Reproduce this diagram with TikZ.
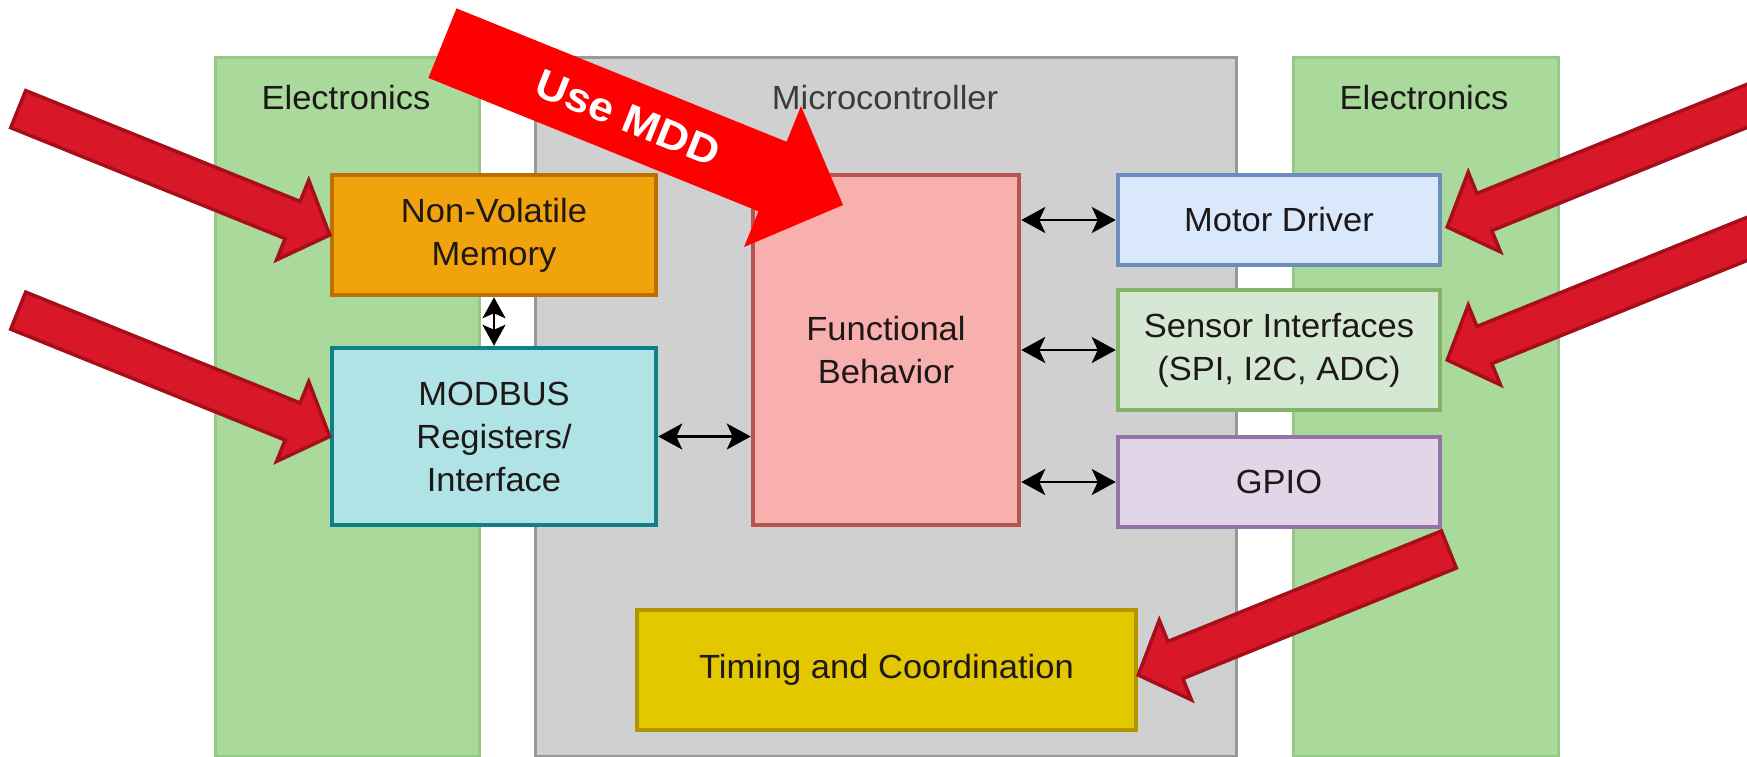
\documentclass[tikz,border=0pt]{standalone}
\usepackage{fontspec}
\setmainfont{Liberation Sans}[FakeStretch=1.03]
\newfontfamily\mddfont{Liberation Sans}[FakeStretch=1.08]
\usetikzlibrary{arrows.meta}

\definecolor{elecfill}{RGB}{169,218,156}
\definecolor{elecline}{RGB}{150,200,135}
\definecolor{mcufill}{RGB}{208,208,208}
\definecolor{mculine}{RGB}{153,153,153}
\definecolor{nvmfill}{HTML}{F0A30A}
\definecolor{nvmline}{HTML}{BD7000}
\definecolor{modfill}{HTML}{B0E3E6}
\definecolor{modline}{HTML}{0E8088}
\definecolor{fbfill}{RGB}{247,176,174}
\definecolor{fbline}{HTML}{B85450}
\definecolor{motfill}{HTML}{DAE8FC}
\definecolor{motline}{HTML}{6C8EBF}
\definecolor{senfill}{HTML}{D5E8D4}
\definecolor{senline}{HTML}{82B366}
\definecolor{gpiofill}{HTML}{E1D5E7}
\definecolor{gpioline}{HTML}{9673A6}
\definecolor{timfill}{HTML}{E3C800}
\definecolor{timline}{HTML}{B09500}
\definecolor{blockred}{RGB}{216,24,40}
\definecolor{blockdark}{RGB}{165,14,26}
\definecolor{txt}{RGB}{30,24,24}
\definecolor{mcutxt}{RGB}{60,60,60}

% block arrow with its tip at the local origin, pointing along +x
% #1 style, #2 total length, #3 shaft width, #4 head width, #5 head length
\newcommand\blockarrow[5]{%
  \path[#1] (-#2,-#3/2) -- (-#5,-#3/2) -- (-#5,-#4/2) -- (0,0)
    -- (-#5,#4/2) -- (-#5,#3/2) -- (-#2,#3/2) -- cycle;}

\begin{document}
\begin{tikzpicture}[x=1pt,y=-1pt,
  panel/.style={line width=3pt},
  box/.style={draw, line width=4.5pt, align=center, inner sep=0pt,
    font=\fontsize{33.5}{43}\selectfont, text=txt},
  title/.style={font=\fontsize{33.5}{43}\selectfont, anchor=base, inner sep=0pt},
  link/.style={line width=2.5pt,
    {Stealth[length=24pt,width=26pt,inset=6pt]}-{Stealth[length=24pt,width=26pt,inset=6pt]}},
  shortlink/.style={line width=2.5pt,
    {Stealth[length=21pt,width=23pt,inset=5pt]}-{Stealth[length=21pt,width=23pt,inset=5pt]}},
  redarrow/.style={fill=blockred, draw=blockdark, line width=3.5pt, line join=miter},
  mddarrow/.style={fill=red}]

\useasboundingbox (0,0) rectangle (1747,757);
\fill[white] (0,0) rectangle (1747,757);
\clip (0,0) rectangle (1747,757);

% swimlanes
\draw[panel, fill=elecfill, draw=elecline] (215,58) rectangle (479,756);
\draw[panel, fill=mcufill, draw=mculine] (535,58) rectangle (1236,756);
\draw[panel, fill=elecfill, draw=elecline] (1293,58) rectangle (1558,756);

\node[title, text=txt] (elecL) at (346,110) {Electronics};
\node[title, text=mcutxt] (mcu) at (885,110) {Microcontroller};
\node[title, text=txt] (elecR) at (1424,110) {Electronics};

% blocks
\node[box, fill=nvmfill, draw=nvmline, minimum width=324pt, minimum height=120pt]
  (nvm) at (494,235) {Non-Volatile\\Memory};
\node[box, fill=modfill, draw=modline, minimum width=324pt, minimum height=177pt]
  (modbus) at (494,436.5) {MODBUS\\Registers/\\Interface};
\node[box, fill=fbfill, draw=fbline, minimum width=266pt, minimum height=350pt]
  (fb) at (886,350) {Functional\\Behavior};
\node[box, fill=motfill, draw=motline, minimum width=322pt, minimum height=90pt]
  (motor) at (1279,220) {Motor Driver};
\node[box, fill=senfill, draw=senline, minimum width=322pt, minimum height=120pt]
  (sensor) at (1279,350) {Sensor Interfaces\\(SPI, I2C, ADC)};
\node[box, fill=gpiofill, draw=gpioline, minimum width=322pt, minimum height=90pt]
  (gpio) at (1279,482) {GPIO};
\node[box, fill=timfill, draw=timline, minimum width=499pt, minimum height=120pt]
  (timing) at (886.5,670) {Timing and Coordination};

% interfaces
\draw[shortlink] (nvm.south) -- (modbus.north);
\draw[link] (modbus.east) -- (modbus.east -| fb.west);
\draw[link] (motor.west -| fb.east) -- (motor.west);
\draw[link] (sensor.west -| fb.east) -- (sensor.west);
\draw[link] (gpio.west -| fb.east) -- (gpio.west);

% highlight arrows
\begin{scope}[shift={(nvm.west)}, rotate=-22]
  \blockarrow{redarrow}{336}{40}{86}{40}
\end{scope}
\begin{scope}[shift={(modbus.west)}, rotate=-22]
  \blockarrow{redarrow}{336}{40}{86}{40}
\end{scope}
\begin{scope}[shift={([shift={(5,7)}]motor.east)}, rotate=202]
  \blockarrow{redarrow}{380}{40}{86}{40}
\end{scope}
\begin{scope}[shift={([shift={(5,10)}]sensor.east)}, rotate=202]
  \blockarrow{redarrow}{380}{40}{86}{40}
\end{scope}
\begin{scope}[shift={([shift={(0,5)}]timing.east)}, rotate=202]
  \blockarrow{redarrow}{335}{40}{86}{40}
\end{scope}

\coordinate (mddtip) at (843,205);
\begin{scope}[shift={(mddtip)}, rotate=-22]
  \blockarrow{mddarrow}{432}{75}{152}{76}
  \node[rotate=-22, text=white, inner sep=0pt,
    font=\mddfont\bfseries\fontsize{41}{41}\selectfont] (mdd) at (-232,0) {Use MDD};
\end{scope}

\end{tikzpicture}
\end{document}
